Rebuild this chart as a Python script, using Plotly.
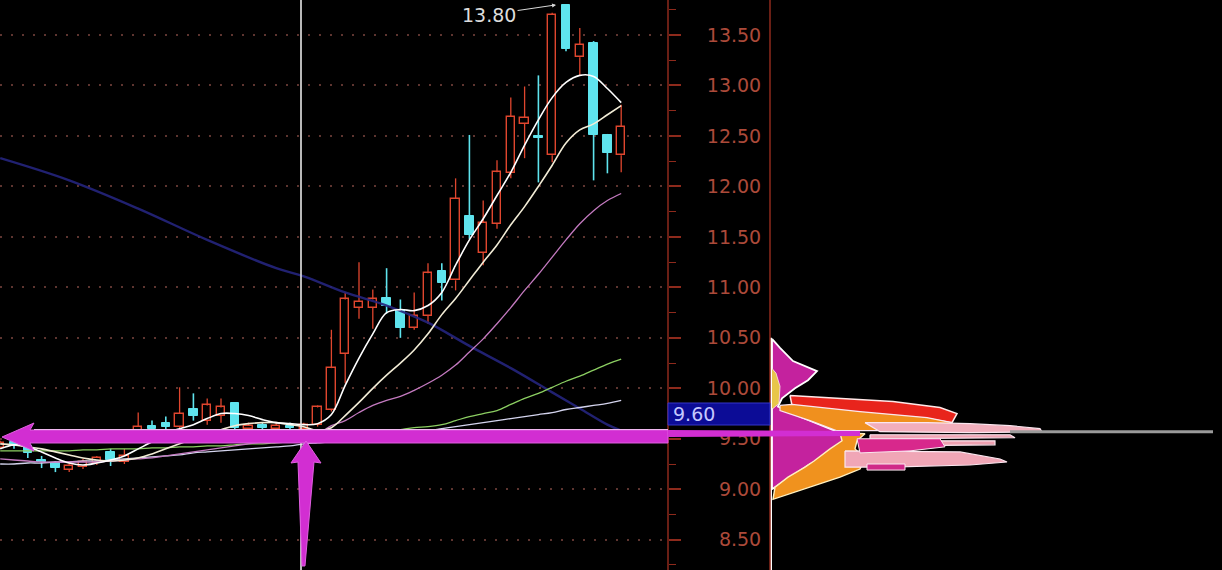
import plotly.graph_objects as go

W, H = 1222, 570

# ---------------- candle data (index 0..45) ----------------
opens  = [9.41, 9.47, 9.43, 9.29, 9.26, 9.19, 9.22, 9.26, 9.37, 9.27,
          9.56, 9.63, 9.66, 9.62, 9.80, 9.68, 9.73, 9.85, 9.60, 9.64,
          9.60, 9.63, 9.60,
          9.64, 9.79, 10.34, 10.80, 10.80, 10.89, 10.78, 10.60, 10.72, 11.16,
          11.07, 11.71, 11.34, 11.63, 12.13, 12.62, 12.50, 12.31, 13.80, 13.28,
          13.42, 12.51, 12.31]
highs  = [9.48, 9.50, 9.48, 9.33, 9.28, 9.26, 9.30, 9.33, 9.40, 9.40,
          9.76, 9.68, 9.72, 10.01, 9.95, 9.90, 9.90, 9.86, 9.66, 9.66,
          9.66, 9.66, 9.66,
          9.83, 10.58, 10.95, 11.25, 10.98, 11.19, 10.88, 10.95, 11.24, 11.24,
          12.08, 12.51, 11.86, 12.26, 12.88, 12.99, 13.10, 13.72, 13.80, 13.57,
          13.44, 12.52, 12.81]
lows   = [9.40, 9.40, 9.31, 9.21, 9.17, 9.17, 9.20, 9.24, 9.23, 9.25,
          9.50, 9.55, 9.58, 9.58, 9.68, 9.64, 9.66, 9.58, 9.57, 9.57,
          9.58, 9.58, 9.58,
          9.62, 9.77, 10.05, 10.69, 10.59, 10.74, 10.50, 10.58, 10.64, 10.87,
          10.97, 11.48, 11.22, 11.58, 12.08, 12.28, 12.04, 12.24, 13.34, 13.10,
          12.06, 12.13, 12.14]
closes = [9.46, 9.43, 9.36, 9.27, 9.21, 9.23, 9.27, 9.31, 9.29, 9.33,
          9.62, 9.60, 9.62, 9.75, 9.73, 9.83, 9.81, 9.61, 9.63, 9.61,
          9.63, 9.61, 9.64,
          9.81, 10.20, 10.88, 10.86, 10.88, 10.82, 10.60, 10.72, 11.14, 11.04,
          11.88, 11.52, 11.64, 12.14, 12.69, 12.68, 12.48, 13.70, 13.36, 13.40,
          12.51, 12.33, 12.59]

# ---------------- moving averages ----------------
ma5 = [9.40, 9.44, 9.42, 9.37, 9.31, 9.26, 9.24, 9.26, 9.29, 9.33, 9.40, 9.47,
       9.55, 9.60, 9.64, 9.70, 9.75, 9.75, 9.73, 9.69, 9.66, 9.65, 9.64,
       9.65, 9.74, 10.03, 10.30, 10.54, 10.75, 10.78, 10.77, 10.82, 10.95, 11.22,
       11.47, 11.68, 11.91, 12.14, 12.41, 12.66, 12.88, 13.03, 13.10, 13.09,
       12.97, 12.83]
ma10 = [9.45, 9.44, 9.42, 9.40, 9.37, 9.34, 9.31, 9.29, 9.28, 9.29, 9.31, 9.35,
        9.40, 9.45, 9.50, 9.55, 9.59, 9.63, 9.65, 9.66, 9.66, 9.64, 9.62,
        9.58, 9.61, 9.73, 9.86, 10.00, 10.13, 10.25, 10.38, 10.54, 10.73, 10.89,
        11.07, 11.25, 11.42, 11.62, 11.80, 12.00, 12.21, 12.43, 12.56, 12.62,
        12.71, 12.80]
ma20 = [9.30, 9.29, 9.28, 9.27, 9.27, 9.27, 9.27, 9.27, 9.28, 9.29, 9.30, 9.31,
        9.33, 9.35, 9.37, 9.39, 9.41, 9.43, 9.45, 9.47, 9.49, 9.51, 9.53,
        9.55, 9.63, 9.68, 9.76, 9.83, 9.88, 9.92, 9.98, 10.05, 10.13, 10.23,
        10.36, 10.49, 10.64, 10.80, 10.97, 11.13, 11.30, 11.47, 11.63, 11.76,
        11.86, 11.93]
ma_green = [9.38, 9.38, 9.38, 9.38, 9.38, 9.38, 9.39, 9.39, 9.40, 9.40,
            9.40, 9.41, 9.41, 9.42, 9.42, 9.43, 9.43, 9.44, 9.45, 9.45,
            9.46, 9.47, 9.48, 9.50, 9.51, 9.52, 9.54, 9.55, 9.57, 9.59,
            9.61, 9.62, 9.64, 9.68, 9.72, 9.75, 9.78, 9.84, 9.90, 9.95,
            10.01, 10.07, 10.12, 10.18, 10.24, 10.29]
ma_lav = [9.25, 9.25, 9.26, 9.26, 9.27, 9.27, 9.28, 9.28, 9.29, 9.30,
          9.31, 9.32, 9.33, 9.34, 9.36, 9.37, 9.38, 9.39, 9.40, 9.41,
          9.42, 9.43, 9.45, 9.46, 9.47, 9.49, 9.50, 9.52, 9.53, 9.55,
          9.57, 9.58, 9.60, 9.62, 9.64, 9.66, 9.68, 9.70, 9.72, 9.74,
          9.76, 9.79, 9.81, 9.83, 9.85, 9.88]
blue_idx = [0, 5, 10, 15, 20, 22, 25, 28, 31, 34, 37, 40, 42, 44, 45]
blue_val = [12.28, 12.06, 11.78, 11.47, 11.19, 11.11, 10.95, 10.82, 10.65,
            10.42, 10.20, 9.96, 9.80, 9.64, 9.58]

# ---------------- axis ticks ----------------
tick_vals = [8.5, 9.0, 9.5, 10.0, 10.5, 11.0, 11.5, 12.0, 12.5, 13.0, 13.5]
tick_text = [("\u2007" if v < 10 else "") + f"{v:.2f}" for v in tick_vals]
peak_label = "13.80"
peak_value = 13.80
peak_index = 40.35
price_label = "9.60"

# ---------------- chip distribution polygons (volume, price) ----------------
chip_magenta_v = [2, 10, 23, 47, 38, 25, 12, 8, 30, 55, 72, 74, 62, 47, 40, 20, 5, 2]
chip_magenta_p = [10.49, 10.40, 10.27, 10.17, 10.08, 10.00, 9.90, 9.82, 9.72, 9.62,
                  9.55, 9.48, 9.40, 9.28, 9.25, 9.12, 9.02, 9.00]
chip_yellow_v = [0, 6, 10, 9, 3, 0]
chip_yellow_p = [10.22, 10.15, 10.02, 9.85, 9.80, 9.80]
chip_red_v = [20, 57, 123, 170, 187, 182, 157, 90, 22]
chip_red_p = [9.93, 9.91, 9.87, 9.81, 9.75, 9.66, 9.70, 9.76, 9.83]
chip_orange1_v = [10, 22, 90, 157, 182, 177, 123, 67, 40, 10]
chip_orange1_p = [9.83, 9.84, 9.77, 9.71, 9.66, 9.61, 9.58, 9.58, 9.68, 9.78]
chip_orange2_v = [70, 95, 87, 85, 95, 90, 70, 45, 15, 3, 5, 18, 35, 44, 60, 72]
chip_orange2_p = [9.56, 9.55, 9.48, 9.40, 9.30, 9.20, 9.12, 9.04, 8.94, 8.90,
                  9.02, 9.12, 9.22, 9.28, 9.40, 9.48]
chip_pink1_v = [95, 157, 200, 240, 270, 272, 200, 110]
chip_pink1_p = [9.66, 9.66, 9.65, 9.63, 9.60, 9.57, 9.56, 9.57]
chip_pink2_v = [100, 240, 245, 100]
chip_pink2_p = [9.54, 9.54, 9.51, 9.50]
chip_pink3_v = [120, 225, 225, 120]
chip_pink3_p = [9.48, 9.48, 9.44, 9.43]
chip_pink4_v = [75, 190, 230, 237, 200, 120, 75]
chip_pink4_p = [9.38, 9.37, 9.30, 9.27, 9.24, 9.22, 9.22]
chip_hot1_v = [87, 170, 175, 140, 90]
chip_hot1_p = [9.50, 9.50, 9.42, 9.38, 9.36]
chip_hot2_v = [97, 135, 135, 97]
chip_hot2_p = [9.25, 9.25, 9.19, 9.19]
chip_grey_v = [240, 443]
chip_grey_p = [9.57, 9.57]

# ---------------- colours ----------------
RED = "#e0462e"
CYAN = "#5fe4ee"
AXRED = "#8e2a1c"
LBL = "#ac4a3a"

fig = go.Figure()

idx = list(range(len(opens)))
up = [i for i in idx if closes[i] >= opens[i]]
dn = [i for i in idx if closes[i] < opens[i]]

# bodies
fig.add_trace(go.Bar(
    x=up, base=[opens[i] for i in up], y=[closes[i] - opens[i] for i in up],
    width=0.6, marker=dict(color="black", line=dict(color=RED, width=1.4)),
    hoverinfo="skip"))
fig.add_trace(go.Bar(
    x=dn, base=[closes[i] for i in dn], y=[opens[i] - closes[i] for i in dn],
    width=0.62, marker=dict(color=CYAN, line=dict(color=CYAN, width=1)),
    hoverinfo="skip"))

# wicks
wx_u, wy_u, wx_d, wy_d = [], [], [], []
for i in up:
    wx_u += [i, i, None, i, i, None]
    wy_u += [highs[i], closes[i], None, opens[i], lows[i], None]
for i in dn:
    wx_d += [i, i, None]
    wy_d += [highs[i], lows[i], None]
fig.add_trace(go.Scatter(x=wx_u, y=wy_u, mode="lines",
                         line=dict(color=RED, width=1.3), hoverinfo="skip"))
fig.add_trace(go.Scatter(x=wx_d, y=wy_d, mode="lines",
                         line=dict(color=CYAN, width=1.6), hoverinfo="skip"))

# moving averages
fig.add_trace(go.Scatter(x=blue_idx, y=blue_val, mode="lines", line_shape="spline",
                         line=dict(color="#25257e", width=2.4), opacity=0.9))
fig.add_trace(go.Scatter(x=idx, y=ma_lav, mode="lines", line_shape="spline",
                         line=dict(color="#d4d4ee", width=1.3)))
fig.add_trace(go.Scatter(x=idx, y=ma_green, mode="lines", line_shape="spline",
                         line=dict(color="#8ccf62", width=1.3)))
fig.add_trace(go.Scatter(x=idx, y=ma20, mode="lines", line_shape="spline",
                         line=dict(color="#c47ac0", width=1.3)))
fig.add_trace(go.Scatter(x=idx, y=ma10, mode="lines", line_shape="spline",
                         line=dict(color="#f2ecd6", width=1.6)))
fig.add_trace(go.Scatter(x=idx, y=ma5, mode="lines", line_shape="spline",
                         line=dict(color="#ffffff", width=1.6)))

# chip distribution
def chip(v, p, color, lw=1.2, lc="#fbe6ef"):
    fig.add_trace(go.Scatter(x=v + [v[0]], y=p + [p[0]], mode="lines", fill="toself",
                             fillcolor=color, line=dict(color=lc, width=lw),
                             xaxis="x2", yaxis="y2", hoverinfo="skip"))

chip(chip_magenta_v, chip_magenta_p, "#c4229e", 1.8, "#ffffff")
chip(chip_yellow_v, chip_yellow_p, "#e8c64a", 0.8)
chip(chip_red_v, chip_red_p, "#e8241c", 1.5, "#ffe8e8")
chip(chip_orange1_v, chip_orange1_p, "#f0901e")
chip(chip_orange2_v, chip_orange2_p, "#f0921e", 1.4, "#fff0c0")
chip(chip_pink1_v, chip_pink1_p, "#f2aebc")
chip(chip_pink2_v, chip_pink2_p, "#f0a4b4")
chip(chip_pink3_v, chip_pink3_p, "#eea0b0")
chip(chip_pink4_v, chip_pink4_p, "#f0a6b6")
chip(chip_hot1_v, chip_hot1_p, "#d8288c", 1.0)
chip(chip_hot2_v, chip_hot2_p, "#d02888", 1.0)
fig.add_trace(go.Scatter(x=chip_grey_v, y=chip_grey_p, mode="lines",
                         line=dict(color="#9a9a9a", width=3), xaxis="x2", yaxis="y2"))
fig.add_trace(go.Scatter(x=[1, 1], y=[10.50, 8.0], mode="lines",
                         line=dict(color="#ffffff", width=2), xaxis="x2", yaxis="y2"))

# ---------------- layout ----------------
PITCH = 13.8
X0 = 0.2
YR = [8.2, 13.847]

def px(x, y):
    return x / W, 1 - y / H

def path(points):
    s = ""
    for k, (x, y) in enumerate(points):
        a, b = px(x, y)
        s += ("M" if k == 0 else "L") + f"{a:.5f},{b:.5f} "
    return s + "Z"

shapes = []
for xp in (668, 770):
    shapes.append(dict(type="line", xref="paper", yref="paper",
                       x0=xp / W, x1=xp / W, y0=0, y1=1,
                       line=dict(color=AXRED, width=1.5), layer="above"))
shapes.append(dict(type="line", xref="paper", yref="paper",
                   x0=301 / W, x1=301 / W, y0=0, y1=1,
                   line=dict(color="#e8e8e8", width=1.6), layer="above"))
shapes.append(dict(type="rect", xref="paper", yref="paper",
                   x0=668 / W, x1=770 / W, y0=1 - 425 / H, y1=1 - 403 / H,
                   fillcolor="#0c0c96", line=dict(color="#3434c8", width=1), layer="above"))
shapes.append(dict(type="path", xref="paper", yref="paper", layer="above",
                   path=path([(2, 437), (34, 423), (30, 430), (668, 430), (668, 443),
                              (30, 443), (34, 451)]),
                   fillcolor="#d22ed2", line=dict(color="#e060e0", width=1)))
shapes.append(dict(type="path", xref="paper", yref="paper", layer="above",
                   path=path([(668, 430), (860, 431), (860, 436), (668, 437)]),
                   fillcolor="#d22ed2", line=dict(width=0)))
shapes.append(dict(type="line", xref="paper", yref="paper", layer="above",
                   x0=34 / W, x1=668 / W, y0=1 - 429.5 / H, y1=1 - 429.5 / H,
                   line=dict(color="#f0b8f0", width=1)))
shapes.append(dict(type="path", xref="paper", yref="paper", layer="above",
                   path=path([(306, 441), (321, 463), (314, 462), (305, 566), (302, 566),
                              (298, 462), (291, 463)]),
                   fillcolor="#d22ed2", line=dict(color="#e060e0", width=1)))

annotations = [
    dict(x=peak_index, y=peak_value, xref="x", yref="y", text=peak_label,
         showarrow=True, ax=-68, ay=10, arrowhead=2, arrowsize=0.8, arrowwidth=1,
         arrowcolor="#d8d8d8", standoff=1,
         font=dict(family="DejaVu Sans", size=19, color="#dcdcdc")),
    dict(x=671 / W, y=1 - 414 / H, xref="paper", yref="paper", text=price_label,
         showarrow=False, xanchor="left", yanchor="middle",
         font=dict(family="DejaVu Sans", size=19, color="#c4c8ff")),
]

fig.update_layout(
    width=W, height=H, margin=dict(l=0, r=0, t=0, b=0),
    paper_bgcolor="black", plot_bgcolor="black",
    showlegend=False, barmode="overlay", bargap=0,
    xaxis=dict(domain=[0, 668 / W], range=[(0 - X0) / PITCH, (668 - X0) / PITCH],
               visible=False, showgrid=False, zeroline=False, fixedrange=True),
    yaxis=dict(domain=[0, 1], range=YR, side="right", anchor="x",
               tickvals=tick_vals, ticktext=tick_text, ticks="outside", ticklen=12,
               tickcolor=AXRED, tickwidth=1.5, ticklabelstandoff=22,
               tickfont=dict(family="DejaVu Sans", size=19, color=LBL),
               showline=False, zeroline=False,
               showgrid=True, gridcolor="#5e3530", gridwidth=1.5, griddash="2px,9px",
               minor=dict(dtick=0.25, ticks="outside", ticklen=7, tickcolor=AXRED,
                          tickwidth=1.2, showgrid=False)),
    xaxis2=dict(domain=[770 / W, 1], range=[0, 452], visible=False, anchor="y2",
                showgrid=False, zeroline=False),
    yaxis2=dict(domain=[0, 1], range=YR, visible=False, anchor="x2",
                showgrid=False, zeroline=False),
    shapes=shapes, annotations=annotations,
)

fig.write_html("out.html", config={"displayModeBar": False},
               post_script="document.body.style.margin='0px';document.body.style.background='black';")
